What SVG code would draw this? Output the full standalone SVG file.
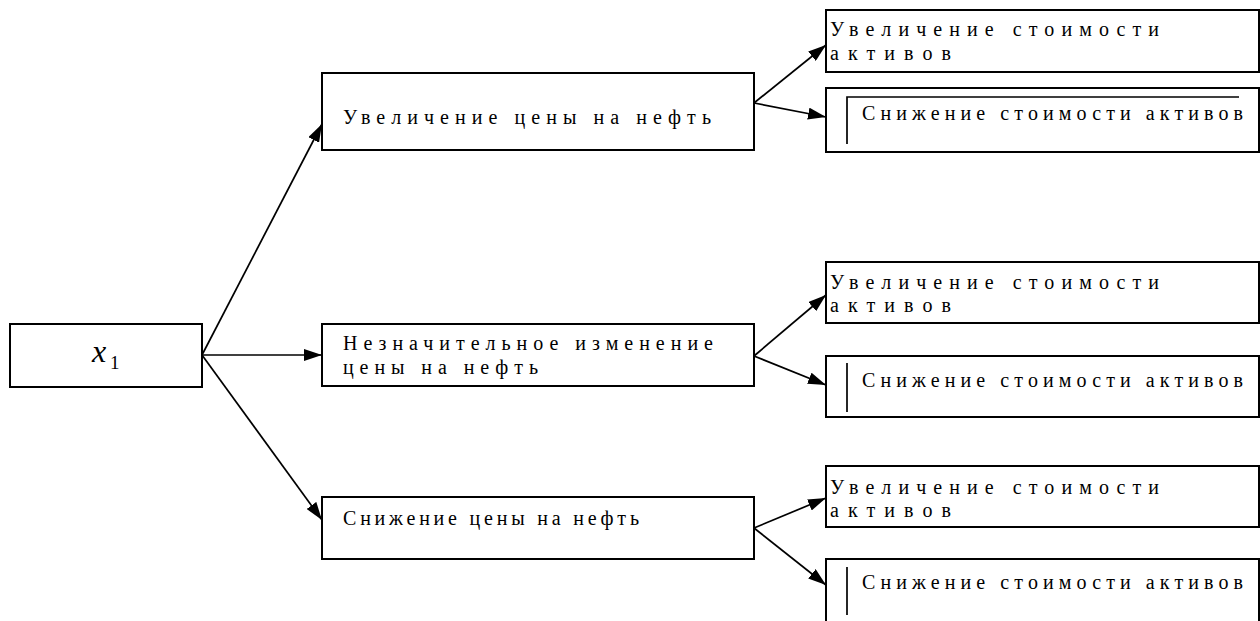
<svg xmlns="http://www.w3.org/2000/svg" width="1260" height="621" viewBox="0 0 1260 621">
<style>
.box{fill:#fff;stroke:#000;stroke-width:2}
.ln{stroke:#000;stroke-width:1.7;fill:none}
.inner{stroke:#000;stroke-width:1.7;fill:none}
text{font-family:'Liberation Serif','Times New Roman',serif;fill:#000}
.t{font-size:20px}
.x{font-style:italic;font-size:32px}
.s{font-size:19px}
</style>
<defs>
<marker id="ah" viewBox="0 0 18 12" refX="18" refY="6" markerWidth="18" markerHeight="12" markerUnits="userSpaceOnUse" orient="auto">
<path d="M0,0 L18,6 L0,12 Z" fill="#000"/>
</marker>
</defs>
<rect width="1260" height="621" fill="#fff"/>
<g id="connectors">
<line class="ln" x1="202" y1="355" x2="322" y2="124" marker-end="url(#ah)"/>
<line class="ln" x1="202" y1="355" x2="322" y2="355" marker-end="url(#ah)"/>
<line class="ln" x1="202" y1="355" x2="322" y2="520" marker-end="url(#ah)"/>
<line class="ln" x1="754" y1="103" x2="826" y2="45" marker-end="url(#ah)"/>
<line class="ln" x1="754" y1="103" x2="826" y2="117" marker-end="url(#ah)"/>
<line class="ln" x1="754" y1="356" x2="826" y2="295" marker-end="url(#ah)"/>
<line class="ln" x1="754" y1="356" x2="826" y2="385" marker-end="url(#ah)"/>
<line class="ln" x1="754" y1="528" x2="826" y2="498" marker-end="url(#ah)"/>
<line class="ln" x1="754" y1="528" x2="826" y2="585" marker-end="url(#ah)"/>
</g>
<g id="x1">
<rect class="box" x="10" y="324" width="192" height="63"/>
<text class="x" x="92" y="362">x</text><text class="s" x="110" y="369">1</text>
</g>
<g id="oil-up">
<rect class="box" x="322" y="73" width="432" height="77"/>
<text class="t" x="343" y="124" textLength="368" lengthAdjust="spacing">Увеличение цены на нефть</text>
</g>
<g id="oil-flat">
<rect class="box" x="322" y="324" width="432" height="62"/>
<text class="t" x="343" y="350" textLength="370" lengthAdjust="spacing">Незначительное изменение</text>
<text class="t" x="343" y="374" textLength="195" lengthAdjust="spacing">цены на нефть</text>
</g>
<g id="oil-down">
<rect class="box" x="322" y="497" width="432" height="62"/>
<text class="t" x="343" y="525" textLength="296" lengthAdjust="spacing">Снижение цены на нефть</text>
</g>
<g id="up-inc">
<rect class="box" x="826" y="10" width="433" height="62"/>
<text class="t" x="830" y="36" textLength="329" lengthAdjust="spacing">Увеличение стоимости</text>
<text class="t" x="830" y="60" textLength="121" lengthAdjust="spacing">активов</text>
</g>
<g id="up-dec">
<rect class="box" x="826" y="88" width="433" height="64"/>
<path class="inner" d="M847,144 V97 H1239"/>
<text class="t" x="862" y="120" textLength="381" lengthAdjust="spacing">Снижение стоимости активов</text>
</g>
<g id="flat-inc">
<rect class="box" x="826" y="262" width="433" height="61"/>
<text class="t" x="830" y="289" textLength="329" lengthAdjust="spacing">Увеличение стоимости</text>
<text class="t" x="830" y="312" textLength="121" lengthAdjust="spacing">активов</text>
</g>
<g id="flat-dec">
<rect class="box" x="826" y="356" width="433" height="61"/>
<path class="inner" d="M847,363 V412"/>
<text class="t" x="862" y="387" textLength="381" lengthAdjust="spacing">Снижение стоимости активов</text>
</g>
<g id="down-inc">
<rect class="box" x="826" y="466" width="433" height="61"/>
<text class="t" x="830" y="494" textLength="329" lengthAdjust="spacing">Увеличение стоимости</text>
<text class="t" x="830" y="517" textLength="121" lengthAdjust="spacing">активов</text>
</g>
<g id="down-dec">
<rect class="box" x="826" y="559" width="433" height="75"/>
<path class="inner" d="M847,567 V615"/>
<text class="t" x="862" y="589" textLength="381" lengthAdjust="spacing">Снижение стоимости активов</text>
</g>
</svg>
